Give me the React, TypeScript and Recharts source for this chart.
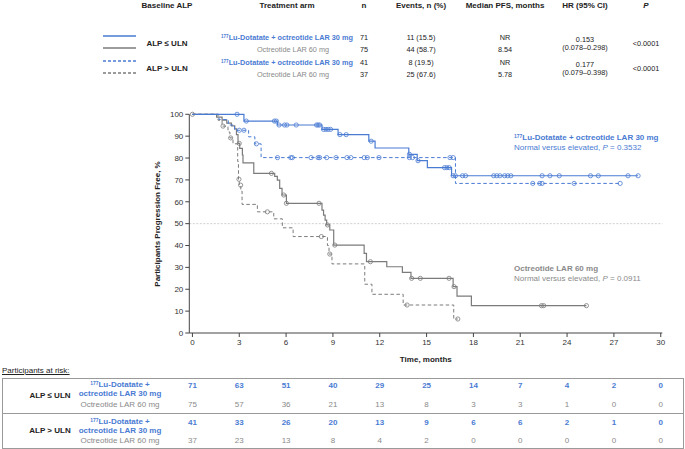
import React from "react";
import { ComposedChart, Line, Scatter, XAxis, YAxis, ReferenceLine } from "recharts";

const BLUE = "#4a7bd3";
const GRAY = "#7b7b7b";
const GRAY_TXT = "#8a8a8a";
const FONT = "'Liberation Sans', Arial, sans-serif";

// Kaplan-Meier steps: month of each drop and % progression free after it
const luNormT = [0, 3.3, 5.44, 8.3, 9.33, 11.3, 11.7, 13.86, 14.4, 15.05, 16.6];
const luNormS = [100, 96.9, 95.1, 93.1, 90.7, 87.7, 84.6, 81.7, 78.8, 75.6, 71.9];
const luNormCens = [2.86, 3.45, 5.25, 5.38, 5.55, 5.9, 6.05, 6.65, 7.95, 8.05, 8.15, 8.4, 8.55, 8.7, 8.85, 9.45, 9.85, 11.45, 13.9, 14.45, 16.15, 16.3, 16.45, 16.7, 16.85, 17.3, 17.5, 19.3, 19.5, 19.7, 20.0, 20.2, 20.4, 22.4, 22.9, 23.5, 25.5, 26.0, 27.9, 28.55];

const luElevT = [0, 1.7, 2.3, 2.7, 3.6, 4.0, 4.4, 16.85];
const luElevS = [100, 97.6, 95.1, 92.7, 89.7, 86.5, 80.2, 68.4];
const luElevCens = [3.0, 3.3, 4.1, 5.45, 6.3, 6.4, 7.6, 8.05, 8.15, 8.6, 9.2, 9.9, 10.15, 11.0, 11.2, 11.95, 13.9, 14.1, 16.5, 16.7, 21.8, 22.25, 22.4, 24.45, 27.4];

const octNormT = [0, 1.55, 1.9, 2.2, 2.5, 2.71, 2.82, 2.92, 3.03, 3.2, 3.24, 3.93, 5.27, 5.44, 5.59, 5.74, 6.02, 8.3, 8.4, 8.5, 8.6, 8.8, 9.05, 11.0, 11.15, 12.45, 13.45, 14.0, 16.7, 16.95, 17.87];
const octNormS = [100, 98.7, 97.3, 96.0, 94.7, 93.3, 90.7, 86.7, 84.4, 81.4, 77.8, 73.0, 71.6, 69.9, 66.1, 63.1, 59.3, 56.2, 53.9, 51.6, 49.4, 47.1, 40.2, 36.4, 32.6, 30.3, 27.7, 25.0, 21.2, 16.9, 12.5];
const octNormCens = [0, 3.0, 5.06, 5.85, 6.02, 8.11, 8.65, 9.12, 11.4, 14.04, 14.6, 16.44, 16.76, 22.36, 22.5, 25.24];

const octElevT = [0, 1.64, 1.9, 2.28, 2.4, 2.6, 2.9, 2.95, 3.0, 3.1, 3.18, 4.16, 5.21, 5.76, 6.45, 8.65, 8.75, 8.94, 11.04, 11.5, 13.5, 16.74];
const octElevS = [100, 97.3, 94.6, 91.9, 89.2, 86.5, 78.4, 70.3, 67.6, 64.9, 58.8, 55.4, 52.2, 48.1, 44.1, 40.0, 36.1, 31.6, 22.3, 17.7, 12.8, 6.4];
const octElevCens = [1.96, 2.45, 2.98, 3.09, 4.8, 8.26, 8.8, 13.75, 17.0];

// participants at risk
const riskTimes = [0, 3, 6, 9, 12, 15, 18, 21, 24, 27, 30];
const riskLuNorm = [71, 63, 51, 40, 29, 25, 14, 7, 4, 2, 0];
const riskOctNorm = [75, 57, 36, 21, 13, 8, 3, 3, 1, 0, 0];
const riskLuElev = [41, 33, 26, 20, 13, 9, 6, 6, 2, 1, 0];
const riskOctElev = [37, 23, 13, 8, 4, 2, 0, 0, 0, 0, 0];

const yTicks = [0, 10, 20, 30, 40, 50, 60, 70, 80, 90, 100];

type Pt = { t: number; s: number };

const stepAt = (t: number[], s: number[], x: number) => {
  let v = s[0];
  t.forEach((ti, i) => {
    if (ti <= x) v = s[i];
  });
  return v;
};

const curve = (t: number[], s: number[], cens: number[]): Pt[] => {
  const pts = t.map((ti, i) => ({ t: ti, s: s[i] }));
  pts.push({ t: Math.max(...cens, t[t.length - 1]), s: s[s.length - 1] });
  return pts;
};

const marks = (t: number[], s: number[], cens: number[]): Pt[] =>
  cens.map((c) => ({ t: c, s: stepAt(t, s, c) }));

const circle = (color: string) => (p: any) =>
  <circle cx={p.cx} cy={p.cy} r={2.1} fill="none" stroke={color} strokeWidth={0.8} />;

const Sup = () => <span style={{ fontSize: "0.62em", verticalAlign: "0.45em" }}>177</span>;

const abs = (left: number, top: number, extra: React.CSSProperties = {}): React.CSSProperties => ({
  position: "absolute",
  left,
  top,
  transform: "translate(-50%, -50%)",
  whiteSpace: "nowrap",
  lineHeight: 1.1,
  ...extra,
});

const W = 685;
const H = 449;
const xMin = -0.2;
const xMax = 30.1;
const plotL = 189.3;
const plotR = 662.3;
const plotT = 114.3;
const plotB = 333;
const xPos = (t: number) => plotL + ((t - xMin) / (xMax - xMin)) * (plotR - plotL);

function LegendLine({ y, color, dashed }: { y: number; color: string; dashed?: boolean }) {
  return (
    <svg style={{ position: "absolute", left: 103, top: y - 2 }} width={33} height={4}>
      <line x1={0} x2={33} y1={2} y2={2} stroke={color} strokeWidth={1.3} strokeDasharray={dashed ? "3 2" : undefined} />
    </svg>
  );
}

export default function App() {
  const hdrY = 6;
  const rows = [38, 50, 63, 75];
  const cols = { base: 167, arm: 287, n: 364, ev: 421, med: 505, hr: 585, p: 646 };
  const bold: React.CSSProperties = { fontWeight: "bold" };
  const blueB: React.CSSProperties = { color: BLUE, fontWeight: "bold" };
  const grayT: React.CSSProperties = { color: GRAY_TXT };
  const small: React.CSSProperties = { fontSize: 7.3 };

  const riskRows = [
    { y: 386, vals: riskLuNorm, style: blueB },
    { y: 405, vals: riskOctNorm, style: grayT },
    { y: 423, vals: riskLuElev, style: blueB },
    { y: 441, vals: riskOctElev, style: grayT },
  ];

  return (
    <div style={{ position: "absolute", left: 0, top: 0, width: W, height: H, fontFamily: FONT, fontSize: 8, color: "#222", background: "#fff" }}>
      {/* summary table */}
      <div style={abs(cols.base, hdrY, bold)}>Baseline ALP</div>
      <div style={abs(cols.arm, hdrY, bold)}>Treatment arm</div>
      <div style={abs(cols.n, hdrY, bold)}>n</div>
      <div style={abs(cols.ev, hdrY, bold)}>Events, n (%)</div>
      <div style={abs(cols.med, hdrY, bold)}>Median PFS, months</div>
      <div style={abs(cols.hr, hdrY, bold)}>HR (95% CI)</div>
      <div style={abs(cols.p, hdrY, { ...bold, fontStyle: "italic" })}>P</div>

      <LegendLine y={rows[0] - 2} color={BLUE} />
      <LegendLine y={rows[1] - 2} color={GRAY} />
      <LegendLine y={rows[2] - 2} color={BLUE} dashed />
      <LegendLine y={rows[3] - 2} color={GRAY} dashed />

      <div style={abs(cols.base, (rows[0] + rows[1]) / 2, bold)}>ALP ≤ ULN</div>
      <div style={abs(cols.base, (rows[2] + rows[3]) / 2, bold)}>ALP &gt; ULN</div>

      <div style={abs(cols.arm, rows[0], { ...blueB, ...small })}><Sup />Lu-Dotatate + octreotide LAR 30 mg</div>
      <div style={abs(cols.arm + 6, rows[1], { ...grayT, ...small })}>Octreotide LAR 60 mg</div>
      <div style={abs(cols.arm, rows[2], { ...blueB, ...small })}><Sup />Lu-Dotatate + octreotide LAR 30 mg</div>
      <div style={abs(cols.arm + 6, rows[3], { ...grayT, ...small })}>Octreotide LAR 60 mg</div>

      <div style={abs(cols.n, rows[0], small)}>71</div>
      <div style={abs(cols.n, rows[1], small)}>75</div>
      <div style={abs(cols.n, rows[2], small)}>41</div>
      <div style={abs(cols.n, rows[3], small)}>37</div>
      <div style={abs(cols.ev, rows[0], small)}>11 (15.5)</div>
      <div style={abs(cols.ev, rows[1], small)}>44 (58.7)</div>
      <div style={abs(cols.ev, rows[2], small)}>8 (19.5)</div>
      <div style={abs(cols.ev, rows[3], small)}>25 (67.6)</div>
      <div style={abs(cols.med, rows[0], small)}>NR</div>
      <div style={abs(cols.med, rows[1], small)}>8.54</div>
      <div style={abs(cols.med, rows[2], small)}>NR</div>
      <div style={abs(cols.med, rows[3], small)}>5.78</div>
      <div style={abs(cols.hr, (rows[0] + rows[1]) / 2, { ...small, textAlign: "center" })}>0.153<br />(0.078–0.298)</div>
      <div style={abs(cols.hr, (rows[2] + rows[3]) / 2, { ...small, textAlign: "center" })}>0.177<br />(0.079–0.398)</div>
      <div style={abs(cols.p, (rows[0] + rows[1]) / 2, small)}>&lt;0.0001</div>
      <div style={abs(cols.p, (rows[2] + rows[3]) / 2, small)}>&lt;0.0001</div>

      {/* KM chart */}
      <div style={{ position: "absolute", left: 0, top: 0 }}>
        <ComposedChart
          width={W}
          height={H}
          margin={{ top: plotT, right: W - plotR, bottom: H - plotB - 30, left: plotL - 40 }}
        >
          <XAxis
            type="number"
            dataKey="t"
            domain={[xMin, xMax]}
            ticks={riskTimes}
            allowDataOverflow
            height={30}
            tickSize={4}
            tickMargin={2}
            stroke="#444"
            tick={{ fontSize: 8, fill: "#333", fontFamily: FONT }}
          />
          <YAxis
            type="number"
            dataKey="s"
            domain={[0, 100]}
            ticks={yTicks}
            width={40}
            tickSize={4}
            tickMargin={2}
            stroke="#444"
            tick={{ fontSize: 8, fill: "#333", fontFamily: FONT }}
          />
          <ReferenceLine y={50} stroke="#c4c4c4" strokeDasharray="2 1.5" strokeWidth={0.8} />
          <Line data={curve(octElevT, octElevS, octElevCens)} dataKey="s" type="stepAfter" stroke={GRAY} strokeWidth={1} strokeDasharray="3.5 2.5" dot={false} isAnimationActive={false} />
          <Line data={curve(octNormT, octNormS, octNormCens)} dataKey="s" type="stepAfter" stroke={GRAY} strokeWidth={1.2} dot={false} isAnimationActive={false} />
          <Line data={curve(luElevT, luElevS, luElevCens)} dataKey="s" type="stepAfter" stroke={BLUE} strokeWidth={1} strokeDasharray="3.5 2.5" dot={false} isAnimationActive={false} />
          <Line data={curve(luNormT, luNormS, luNormCens)} dataKey="s" type="stepAfter" stroke={BLUE} strokeWidth={1.2} dot={false} isAnimationActive={false} />
          <Scatter data={marks(octElevT, octElevS, octElevCens)} dataKey="s" shape={circle(GRAY)} isAnimationActive={false} />
          <Scatter data={marks(octNormT, octNormS, octNormCens)} dataKey="s" shape={circle(GRAY)} isAnimationActive={false} />
          <Scatter data={marks(luElevT, luElevS, luElevCens)} dataKey="s" shape={circle(BLUE)} isAnimationActive={false} />
          <Scatter data={marks(luNormT, luNormS, luNormCens)} dataKey="s" shape={circle(BLUE)} isAnimationActive={false} />
        </ComposedChart>
      </div>

      <div style={abs(158, (plotT + plotB) / 2, { ...bold, transform: "translate(-50%, -50%) rotate(-90deg)" })}>
        Participants Progression Free, %
      </div>
      <div style={abs((plotL + plotR) / 2, 360, bold)}>Time, months</div>

      {/* curve annotations */}
      <div style={{ position: "absolute", left: 514, top: 132, lineHeight: "10px", color: BLUE, whiteSpace: "nowrap" }}>
        <div style={{ fontWeight: "bold" }}><Sup />Lu-Dotatate + octreotide LAR 30 mg</div>
        <div>Normal versus elevated, <i>P</i> = 0.3532</div>
      </div>
      <div style={{ position: "absolute", left: 514, top: 264, lineHeight: "10px", color: GRAY_TXT, whiteSpace: "nowrap" }}>
        <div style={{ fontWeight: "bold" }}>Octreotide LAR 60 mg</div>
        <div>Normal versus elevated, <i>P</i> = 0.0911</div>
      </div>

      {/* participants at risk */}
      <div style={{ position: "absolute", left: 2, top: 366, textDecoration: "underline", whiteSpace: "nowrap" }}>
        Participants at risk:
      </div>
      <div style={{ position: "absolute", left: 2, top: 378, width: 680, height: 69, border: "1px solid #9a9a9a" }} />
      <div style={{ position: "absolute", left: 2, top: 413, width: 682, height: 0, borderTop: "1px solid #9a9a9a" }} />
      <div style={abs(50, 396, bold)}>ALP ≤ ULN</div>
      <div style={abs(50, 431, bold)}>ALP &gt; ULN</div>
      <div style={abs(120, 390, { ...blueB, textAlign: "center" })}><Sup />Lu-Dotatate +<br />octreotide LAR 30 mg</div>
      <div style={abs(120, 405, grayT)}>Octreotide LAR 60 mg</div>
      <div style={abs(120, 427, { ...blueB, textAlign: "center" })}><Sup />Lu-Dotatate +<br />octreotide LAR 30 mg</div>
      <div style={abs(120, 441, grayT)}>Octreotide LAR 60 mg</div>
      {riskRows.map((r, ri) =>
        r.vals.map((v, i) => (
          <div key={`${ri}-${i}`} style={abs(xPos(riskTimes[i]), r.y, r.style)}>{v}</div>
        ))
      )}
    </div>
  );
}
